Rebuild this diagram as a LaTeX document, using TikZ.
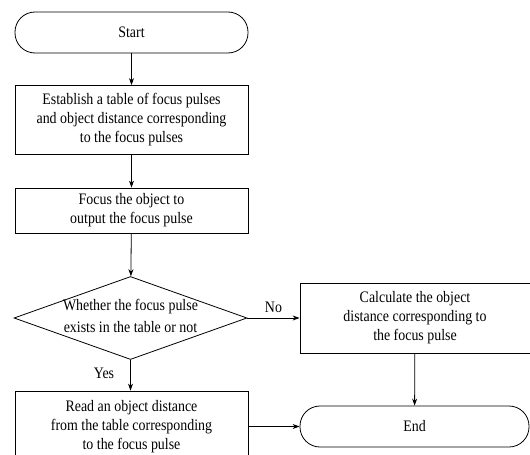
\documentclass[tikz,border=0pt]{standalone}
\usepackage{fontspec}
\setmainfont[FakeStretch=0.87]{Liberation Serif}
\usetikzlibrary{shapes.geometric,arrows.meta}
\tikzset{
  base/.style={draw, line width=0.8pt, align=center, inner sep=0pt,
    font=\fontsize{16}{19}\selectfont},
  procbox/.style={base, minimum width=233pt},
  termbox/.style={base, minimum height=41pt, rounded corners=20pt},
  decbox/.style={base, diamond, minimum width=233pt, minimum height=83pt},
  arr/.style={-{Stealth[length=7pt,width=5pt]}, line width=0.8pt},
  lbl/.style={font=\fontsize{16}{19}\selectfont, inner sep=0pt}
}
\begin{document}
\begin{tikzpicture}[x=1pt,y=-1pt]
\clip (0,0) rectangle (530,455);
\fill[white] (0,0) rectangle (530,455);
\node[termbox, minimum width=233pt] (start) at (131.5,32.5) {Start};
\node[procbox, minimum height=69pt] (b1) at (131.5,120) {Establish a table of focus pulses\\and object distance corresponding\\to the focus pulses};
\node[procbox, minimum height=45pt] (b2) at (131.5,210.5) {Focus the object to\\output the focus pulse};
\node[decbox] (dec) at (130.5,318) {\raisebox{-4pt}[0pt][0pt]{\makebox[0pt]{\begin{tabular}{@{}c@{}}Whether the focus pulse\\[3pt]exists in the table or not\end{tabular}}}};
\node[procbox, minimum width=230pt, minimum height=70pt] (calc) at (415,318) {Calculate the object\\distance corresponding to\\the focus pulse};
\node[procbox, minimum height=72pt] (b3) at (131.5,427) {Read an object distance\\from the table corresponding\\to the focus pulse};
\node[termbox, minimum width=229pt] (end) at (414.5,426.5) {End};
\draw[arr] (start) -- (b1);
\draw[arr] (b1) -- (b2);
\draw[arr] (b2) -- (dec);
\draw[arr] (dec) -- node[lbl, pos=0.45, left=16pt] {Yes} (b3.north -| dec);
\draw[arr] (dec.east) -- node[lbl, above=5pt] {No} (calc.west);
\draw[arr] (calc) -- (end);
\draw[arr] (b3.east |- end) -- (end.west);
\end{tikzpicture}
\end{document}
